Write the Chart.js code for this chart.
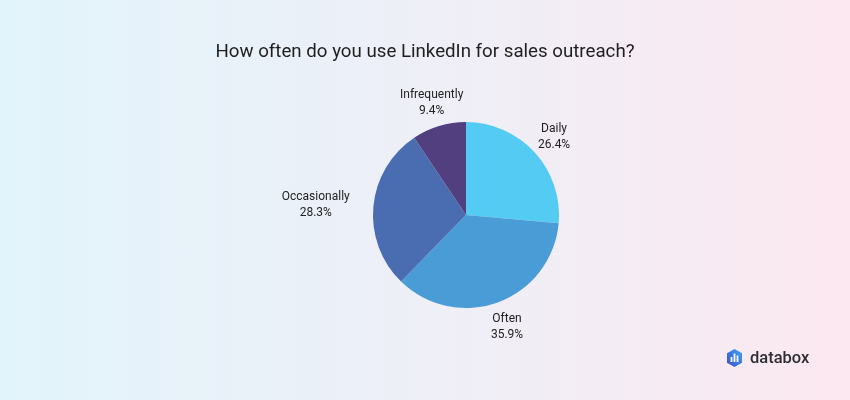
<!DOCTYPE html>
<html>
<head>
<meta charset="utf-8">
<script src="https://cdn.jsdelivr.net/npm/chart.js@4"></script>
<style>
  html, body {
    margin: 0;
    padding: 0;
    width: 850px;
    height: 400px;
    overflow: hidden;
    background: linear-gradient(90deg, #e2f4fb 0%, #eeeff7 50%, #fce8f0 100%);
    font-family: Roboto, "Noto Sans", sans-serif;
  }
  #wrap {
    position: absolute;
    left: 0;
    top: 0;
    width: 850px;
    height: 400px;
  }
  #logo {
    position: absolute;
    left: 727px;
    top: 348px;
    display: flex;
    align-items: center;
    gap: 8px;
    color: #2d2d33;
    font-size: 16.5px;
    font-weight: 500;
  }
</style>
</head>
<body>
<div id="wrap"><canvas id="pieChart"></canvas></div>
<div id="logo">
  <svg width="15" height="18" viewBox="0 0 15 18">
    <defs>
      <linearGradient id="hexGrad" x1="0" y1="1" x2="1" y2="0">
        <stop offset="0" stop-color="#3b4fd0" />
        <stop offset="1" stop-color="#3ea2f0" />
      </linearGradient>
    </defs>
    <polygon points="7.5,0 15,4.3 15,13.7 7.5,18 0,13.7 0,4.3" fill="url(#hexGrad)" />
    <rect x="3.6" y="8" width="1.8" height="5" fill="#fff" />
    <rect x="6.6" y="4.5" width="1.8" height="8.5" fill="#fff" />
    <rect x="9.6" y="6.5" width="1.8" height="6.5" fill="#fff" />
  </svg>
  <span>databox</span>
</div>
<script>
const chartTitle = "How often do you use LinkedIn for sales outreach?";
const categories = ["Daily", "Often", "Occasionally", "Infrequently"];
const shares = [26.4, 35.9, 28.3, 9.4];
const sliceColors = ["#53cbf3", "#4a9cd6", "#4a6cb0", "#523f80"];

// title centred on the whole canvas (pie itself sits right of centre)
const pageTitle = {
  id: "pageTitle",
  afterDraw(chart) {
    const ctx = chart.ctx;
    ctx.save();
    ctx.font = "18.7px Roboto";
    ctx.fillStyle = "#1f1f1f";
    ctx.textAlign = "center";
    ctx.textBaseline = "alphabetic";
    ctx.fillText(chartTitle, chart.width / 2, 57);
    ctx.restore();
  },
};

// draws "Name / xx.x%" outside each slice
const outsideLabels = {
  id: "outsideLabels",
  afterDatasetsDraw(chart) {
    const ctx = chart.ctx;
    const meta = chart.getDatasetMeta(0);
    ctx.save();
    ctx.font = "12px Roboto";
    ctx.fillStyle = "#222222";
    ctx.textAlign = "center";
    ctx.textBaseline = "middle";
    meta.data.forEach((arc, i) => {
      const p = arc.getProps(["x", "y", "startAngle", "endAngle", "outerRadius"], true);
      const mid = (p.startAngle + p.endAngle) / 2;
      const dx = Math.cos(mid);
      const dy = Math.sin(mid);
      const line1 = categories[i];
      const line2 = shares[i].toFixed(1) + "%";
      const halfW = Math.max(ctx.measureText(line1).width, ctx.measureText(line2).width) / 2;
      // push sideways labels out by their half width so they clear the pie
      const r = p.outerRadius + 25 + halfW * Math.pow(Math.abs(dx), 8);
      const cx = p.x + dx * r;
      const cy = p.y + dy * r + 4 * Math.abs(dx);
      ctx.fillText(line1, cx, cy - 8);
      ctx.fillText(line2, cx, cy + 8);
    });
    ctx.restore();
  },
};

new Chart(document.getElementById("pieChart"), {
  type: "pie",
  data: {
    labels: categories,
    datasets: [
      {
        data: shares,
        backgroundColor: sliceColors,
        borderWidth: 0,
      },
    ],
  },
  options: {
    responsive: true,
    maintainAspectRatio: false,
    animation: false,
    layout: {
      padding: { left: 373, right: 291, top: 122, bottom: 92 },
    },
    plugins: {
      legend: { display: false },
      tooltip: { enabled: false },
      title: { display: false },
    },
  },
  plugins: [outsideLabels, pageTitle],
});
</script>
</body>
</html>
